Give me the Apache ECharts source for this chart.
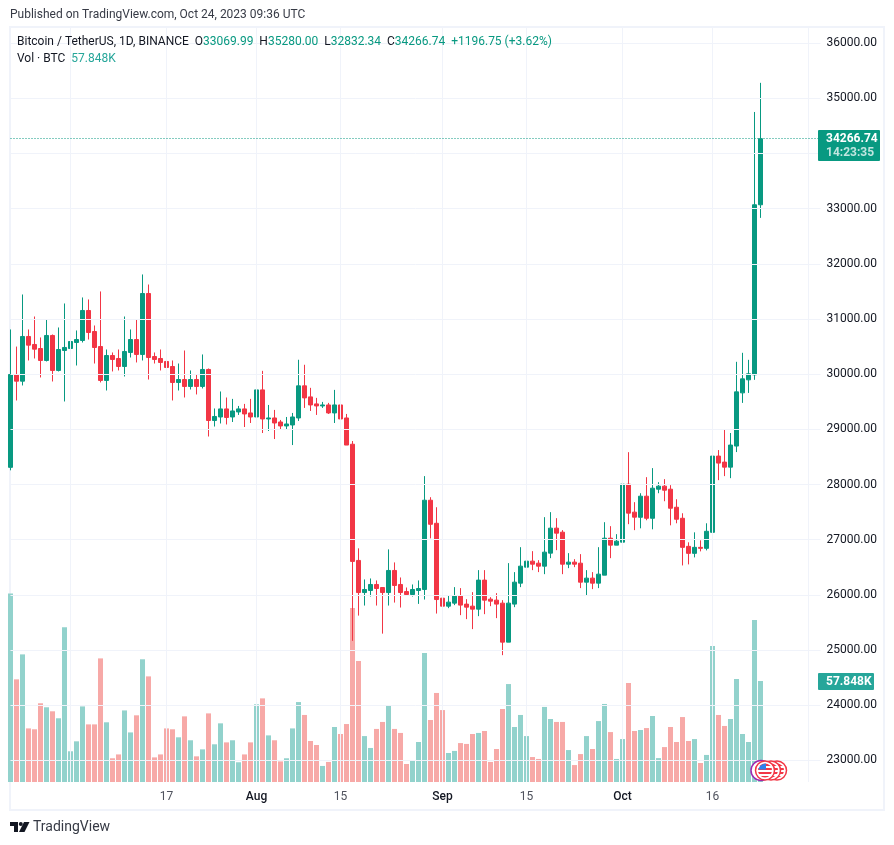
<!DOCTYPE html>
<html>
<head>
<meta charset="utf-8">
<title>BTCUSDT 1D</title>
<script src="https://cdn.jsdelivr.net/npm/echarts@6/dist/echarts.min.js"></script>
<style>
  html, body { margin: 0; padding: 0; background: #fff; }
  #chart { width: 894px; height: 845px; }
</style>
</head>
<body>
<div id="chart"></div>
<script>
// daily candles from 2023-06-21 to 2023-10-24
var opens = [28311,29994,29873,30683,30538,30465,30248,30701,30067,30429,
  30465,30574,30610,31154,30773,30501,29886,30338,30284,30139,
  30393,30628,30357,31462,30320,30284,30230,30139,29849,29903,
  29777,29903,29777,30085,29160,29224,29370,29224,29315,29370,
  29297,29224,29715,29188,29206,29133,29061,29079,29206,29788,
  29588,29461,29424,29442,29297,29442,29206,28730,26624,26042,
  26079,26188,26133,26042,26442,26188,26060,26006,26079,26097,
  27715,27297,25940,25795,25850,25977,25832,25795,25741,26267,
  25922,25904,25850,25143,25832,26212,26502,26611,26574,26520,
  26756,27209,27136,26556,26593,26574,26230,26303,26212,26357,
  27027,26901,26955,28006,27499,27406,27788,27388,27915,27970,
  27915,27588,27388,26879,26752,26861,26843,27133,28515,28406,
  28315,28697,29661,29897,29988,33069.99];
var closes = [29994,29873,30683,30526,30453,30248,30701,30067,30447,30484,
  30592,30628,31154,30755,30483,29886,30338,30266,30139,30411,
  30628,30357,31462,30302,30266,30212,30121,29849,29903,29777,
  29903,29777,30085,29160,29233,29370,29215,29333,29370,29279,
  29224,29715,29188,29206,29115,29061,29097,29224,29788,29570,
  29442,29424,29442,29297,29442,29188,28715,26606,26042,26097,
  26188,26115,26042,26442,26170,26042,26006,26097,26115,27715,
  27279,25915,25795,25868,25977,25814,25777,25741,26267,25904,
  25886,25832,25143,25850,26230,26520,26611,26556,26520,26774,
  27209,27118,26556,26593,26556,26230,26303,26212,26375,27027,
  26901,26973,28006,27481,27408,27788,27388,27933,27970,27897,
  27570,27370,26861,26752,26861,26843,27152,28515,28388,28315,
  28715,29679,29915,30006,33069.99,34266.74];
var lows = [28257,29523,29795,30248,30284,29940,30230,29867,30049,29505,
  30320,30157,30574,30628,30193,29850,29704,30049,30067,29958,
  30302,30212,30248,29903,30193,30067,29668,29523,29704,29577,
  29722,29632,29741,28870,29051,29106,29088,29133,29261,29042,
  29115,28588,28933,28970,28824,28988,29006,28715,29152,29388,
  29333,29261,29388,29279,29115,29079,28715,25166,25624,25806,
  25970,25806,25297,25806,25860,25770,25988,25970,25836,25915,
  27024,25661,25342,25759,25814,25632,25560,25379,25614,25650,
  25795,25578,24907,25143,25777,26140,26230,26448,26412,26375,
  26665,26810,26375,26484,26502,26122,25995,26104,26122,26357,
  26665,26901,26955,27281,27173,27206,27352,27188,27842,27697,
  27260,27297,26533,26552,26679,26788,26806,27115,28079,28152,
  28115,28588,29479,29660,29897,32832.34];
var highs = [30810,30500,31444,30810,31045,30665,30991,30719,30846,31281,
  30665,30792,31390,31354,30882,31499,30447,30393,30447,31045,
  30810,30991,31807,31625,30393,30447,30338,30248,30193,30429,
  30067,29994,30357,30103,29378,29686,29577,29552,29424,29461,
  29552,29752,30060,29442,29352,29170,29224,29297,30261,30170,
  29752,29570,29497,29479,29715,29515,29279,28788,26843,26279,
  26297,26261,26133,26824,26588,26315,26133,26188,26261,28152,
  27770,27588,26158,25995,26140,26122,25922,26049,26448,26448,
  25958,26031,25904,26575,26412,26864,26901,26792,26629,27408,
  27499,27390,27173,26756,26647,26738,26448,26412,26864,27317,
  27245,27100,28078,28586,27680,27842,28133,28297,28042,28097,
  27988,27733,27479,26952,27133,26988,27297,30006,28624,28988,
  28933,30224,30387,30260,34752,35280];
// volume in thousands of BTC
var volumes = [108.0,58.8,73.1,30.7,30.2,45.1,42.8,40.5,36.5,88.6,
  17.6,23.3,43.3,33.0,33.0,70.8,34.2,13.6,15.8,41.0,
  28.4,38.2,70.3,60.5,14.1,15.8,30.7,30.2,25.6,37.6,
  23.9,14.7,18.7,39.3,21.6,33.6,22.7,23.9,11.3,15.8,
  22.7,44.5,47.9,26.7,23.9,11.8,13.6,30.7,45.8,38.4,
  23.5,21.2,9.2,11.5,31.5,27.5,33.2,99.7,69.3,26.3,
  19.5,30.4,34.4,44.1,30.4,28.1,10.3,12.6,22.9,73.9,
  35.5,51.0,41.2,16.6,17.8,22.3,21.8,27.5,28.1,29.2,
  11.5,18.9,41.8,56.1,31.5,38.4,26.3,14.3,13.2,43.0,
  36.1,34.4,34.4,18.3,9.7,16.0,26.3,18.9,34.9,44.7,
  28.6,13.2,24.6,56.7,29.2,29.8,30.9,37.8,13.7,20.0,
  31.5,22.9,37.2,23.5,24.6,10.9,15.5,77.9,38.4,32.1,
  36.1,59.0,27.5,22.9,92.8,57.848];

var priceTicks = [23000,24000,25000,26000,27000,28000,29000,30000,31000,32000,33000,34000,35000,36000];
var xTickDates = ['2023-07-01','2023-07-17','2023-08-01','2023-08-15','2023-09-01','2023-09-15','2023-10-01','2023-10-16','2023-11-01'];
var xTickNames = ['Jul','17','Aug','15','Sep','15','Oct','16','Nov'];

var UP = '#089981', DOWN = '#F23645';
var VOL_UP = '#92D2CC', VOL_DOWN = '#F7A9A7';
var GRID = '#F0F3FA', TEXT = '#131722', FONT = 'Roboto';

// axis runs past the last candle, out to the right edge of the pane
var dates = [];
var d = new Date(Date.UTC(2023, 5, 21));
for (var i = 0; i < 136; i++) {
  dates.push(d.toISOString().slice(0, 10));
  d.setUTCDate(d.getUTCDate() + 1);
}

var candles = opens.map(function (o, i) { return [o, closes[i], lows[i], highs[i]]; });
var isTick = function (index, value) { return xTickDates.indexOf(value) >= 0; };

// one event marker, stripes done with a hard stop gradient
function flag(cx, cy, z) {
  var stops = [], n = 7;
  for (var s = 0; s < n; s++) {
    var c = s % 2 ? '#fff' : '#F23645';
    stops.push({offset: s / n, color: c}, {offset: (s + 1) / n, color: c});
  }
  return [
    {type: 'circle', z: z, shape: {cx: cx, cy: cy, r: 9.5}, style: {fill: '#fff', stroke: '#F23645', lineWidth: 1.5}},
    {type: 'circle', z: z, shape: {cx: cx, cy: cy, r: 7}, style: {fill: new echarts.graphic.LinearGradient(0, 0, 0, 1, stops)}},
    {type: 'polygon', z: z, shape: {points: [[cx - 6, cy - 1], [cx + 1, cy - 1], [cx + 1, cy - 7], [cx - 2, cy - 6.6], [cx - 5, cy - 4.5], [cx - 6.4, cy - 2]]}, style: {fill: '#2F80ED'}}
  ];
}

var chart = echarts.init(document.getElementById('chart'));
chart.setOption({
  animation: false,
  backgroundColor: '#fff',
  textStyle: {fontFamily: FONT},
  grid: [
    {left: 10.5, right: 73.5, top: 28, bottom: 63},
    {left: 10.5, right: 73.5, top: 28, bottom: 63}
  ],
  xAxis: [
    {
      type: 'category', data: dates, boundaryGap: false, gridIndex: 0, z: 5,
      axisLine: {show: false},
      axisTick: {show: false},
      splitLine: {show: true, interval: isTick, lineStyle: {color: GRID, width: 1}},
      axisLabel: {
        show: true, interval: isTick, margin: 9, hideOverlap: false, showMinLabel: false, showMaxLabel: false,
        fontSize: 12, fontFamily: FONT, color: '#50535E',
        formatter: function (value) {
          var name = xTickNames[xTickDates.indexOf(value)];
          return /\d/.test(name) ? name : '{m|' + name + '}';
        },
        rich: {m: {color: TEXT, fontSize: 12, fontWeight: 500, fontFamily: FONT}}
      }
    },
    {type: 'category', data: dates, boundaryGap: false, gridIndex: 1, show: false}
  ],
  yAxis: [
    {
      type: 'value', gridIndex: 0, position: 'right', min: 22608, max: 36274, scale: true, z: 5,
      axisLine: {show: false},
      axisTick: {show: false, customValues: priceTicks},
      splitLine: {show: true, lineStyle: {color: GRID, width: 1}},
      axisLabel: {
        customValues: priceTicks, margin: 6, fontSize: 12, fontFamily: FONT, color: TEXT,
        formatter: function (v) { return v.toFixed(2); }
      }
    },
    {type: 'value', gridIndex: 1, min: 0, max: 431.9, show: false, splitLine: {show: false}}
  ],
  series: [
    {
      name: 'Vol', type: 'bar', xAxisIndex: 1, yAxisIndex: 1, data: volumes,
      barWidth: 5, z: 1, clip: true, silent: true,
      itemStyle: {
        color: function (p) { return closes[p.dataIndex] >= opens[p.dataIndex] ? VOL_UP : VOL_DOWN; }
      }
    },
    {
      name: 'BTCUSDT', type: 'candlestick', xAxisIndex: 0, yAxisIndex: 0, data: candles,
      barWidth: 5, z: 3, clip: true, silent: true,
      itemStyle: {color: UP, color0: DOWN, borderColor: UP, borderColor0: DOWN, borderWidth: 1},
      markLine: {
        silent: true, symbol: 'none', animation: false,
        label: {show: false},
        lineStyle: {color: UP, type: [1, 2], width: 1},
        data: [{yAxis: closes[closes.length - 1]}]
      }
    }
  ],
  graphic: [
    {type: 'rect', z: 0, silent: true, shape: {x: 10, y: 27, width: 874, height: 783}, style: {fill: 'none', stroke: GRID, lineWidth: 2}},
    {type: 'text', z: 10, x: 10, y: 15, style: {text: 'Published on TradingView.com, Oct 24, 2023 09:36 UTC', font: '12px ' + FONT, fill: '#363A45', verticalAlign: 'middle'}},
    {
      type: 'text', z: 10, x: 17, y: 42,
      style: {
        text: 'Bitcoin / TetherUS, 1D, BINANCE  O{v|33069.99}  H{v|35280.00}  L{v|32832.34}  C{v|34266.74}  {v|+1196.75 (+3.62%)}',
        font: '12px ' + FONT, fill: TEXT, verticalAlign: 'middle',
        rich: {v: {fill: UP, font: '12px ' + FONT}}
      }
    },
    {
      type: 'text', z: 10, x: 17, y: 59,
      style: {
        text: 'Vol · BTC  {v|57.848K}', font: '12px ' + FONT, fill: TEXT, verticalAlign: 'middle',
        rich: {v: {fill: '#26A69A', font: '12px ' + FONT}}
      }
    },
    {type: 'rect', z: 10, shape: {x: 818, y: 130, width: 62, height: 31, r: 1}, style: {fill: UP}},
    {type: 'text', z: 11, x: 826, y: 138.5, style: {text: '34266.74', font: 'bold 12px ' + FONT, fill: '#fff', verticalAlign: 'middle'}},
    {type: 'text', z: 11, x: 826, y: 152.5, style: {text: '14:23:35', font: 'bold 12px ' + FONT, fill: 'rgba(255,255,255,0.75)', verticalAlign: 'middle'}},
    {type: 'rect', z: 10, shape: {x: 818, y: 673, width: 56, height: 17, r: 1}, style: {fill: '#26A69A'}},
    {type: 'text', z: 11, x: 826, y: 681.5, style: {text: '57.848K', font: 'bold 12px ' + FONT, fill: '#fff', verticalAlign: 'middle'}},
    {type: 'circle', z: 6, shape: {cx: 761, cy: 770.5, r: 10}, style: {fill: '#fff', stroke: '#9C27B0', lineWidth: 1.5}}
  ].concat(flag(777, 770.5, 7), flag(771, 770.5, 8), flag(765, 770.5, 9), [
    {type: 'polygon', z: 10, shape: {points: [[10, 822], [18, 822], [18, 832], [14, 832], [14, 826], [10, 826]]}, style: {fill: '#131722'}},
    {type: 'circle', z: 10, shape: {cx: 20.8, cy: 824, r: 2}, style: {fill: '#131722'}},
    {type: 'polygon', z: 10, shape: {points: [[24, 822], [29.5, 822], [24.5, 832], [19, 832]]}, style: {fill: '#131722'}},
    {type: 'text', z: 10, x: 33, y: 827.5, style: {text: 'TradingView', font: '14px ' + FONT, fill: '#363A45', verticalAlign: 'middle'}}
  ])
});
</script>
</body>
</html>
